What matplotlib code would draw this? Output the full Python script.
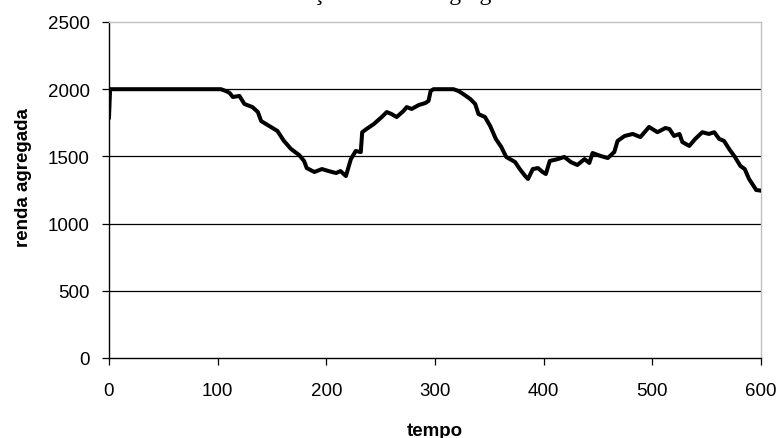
import matplotlib.pyplot as plt

# tempo vs renda agregada
tempo = [0, 1, 60, 103, 108, 111, 114, 120, 124.6, 132, 137, 140, 147.5, 155, 161,
         167.5, 175, 179.5, 182, 189, 196, 202, 209, 213, 218, 222.6, 227, 231.7,
         233, 237, 243.7, 251, 255.6, 260, 264.7, 271, 274, 278.5, 285, 291, 294,
         296, 298.6, 317, 321.5, 326, 332.5, 337, 340, 346, 350.8, 356, 361, 365.5,
         373.7, 378, 383, 385.6, 390, 394.8, 399, 402, 405.6, 413, 419, 425, 431,
         437.6, 442, 445, 452.5, 459, 465, 468, 474.5, 482, 489, 497, 504.7, 512,
         515.7, 520, 525, 527.6, 534, 539.5, 546, 552, 557, 561.5, 566, 570.7, 576,
         581, 585, 589, 592, 595.6, 600]
renda = [1790, 2000, 2000, 2000, 1985, 1972, 1942, 1950, 1890, 1867, 1830, 1763, 1726,
         1689, 1615, 1555, 1510, 1466, 1413, 1384, 1406, 1391, 1376, 1391, 1354, 1480,
         1540, 1532, 1680, 1704, 1741, 1793, 1830, 1815, 1793, 1838, 1867, 1853, 1882,
         1897, 1912, 1987, 2000, 2000, 1987, 1964, 1927, 1890, 1815, 1793, 1726, 1630,
         1570, 1496, 1458, 1406, 1354, 1332, 1406, 1413, 1384, 1369, 1466, 1480, 1496,
         1458, 1436, 1480, 1451, 1525, 1503, 1488, 1533, 1615, 1652, 1667, 1644, 1719,
         1680, 1711, 1704, 1652, 1667, 1607, 1578, 1630, 1680, 1667, 1680, 1630, 1615,
         1555, 1496, 1429, 1406, 1332, 1295, 1250, 1245]

yticks = [0, 500, 1000, 1500, 2000, 2500]
xticks = [0, 100, 200, 300, 400, 500, 600]

fig = plt.figure(figsize=(7.81, 4.39), dpi=100)
ax = fig.add_axes([109/781, 1-359/439, 652/781, 336/439])

for y in yticks[1:-1]:
    ax.axhline(y, color='black', lw=0.9, zorder=1)

ax.plot(tempo, renda, color='black', lw=2.9, solid_joinstyle='round', zorder=3)

ax.set_xlim(0, 600)
ax.set_ylim(0, 2500)
ax.set_xticks(xticks)
ax.set_yticks(yticks)

font = 'Liberation Sans'
ax.tick_params(axis='both', direction='out', length=5, width=0.9, color='black',
               labelsize=13.5, pad=12)
ax.tick_params(axis='y', pad=9)
for lab in ax.get_xticklabels() + ax.get_yticklabels():
    lab.set_fontfamily(font)

ax.spines['left'].set_color('black')
ax.spines['bottom'].set_color('black')
ax.spines['top'].set_color('#c0c0c0')
ax.spines['right'].set_color('#c0c0c0')
for s in ax.spines.values():
    s.set_linewidth(1.0)

ax.set_xlabel('tempo', fontfamily=font, fontweight='bold', fontsize=13.5)
ax.set_ylabel('renda agregada', fontfamily=font, fontweight='bold', fontsize=13.5)
ax.xaxis.set_label_coords(0.5, -0.19)
ax.yaxis.set_label_coords(-0.118, 0.54)

# title sits mostly above the top edge of the picture, only its descenders show
fig.text(0.5, 1.0, 'Evolução da renda agregada', ha='center', va='baseline',
         fontfamily='Liberation Serif', fontsize=17)

fig.savefig('out.png', dpi=100)
